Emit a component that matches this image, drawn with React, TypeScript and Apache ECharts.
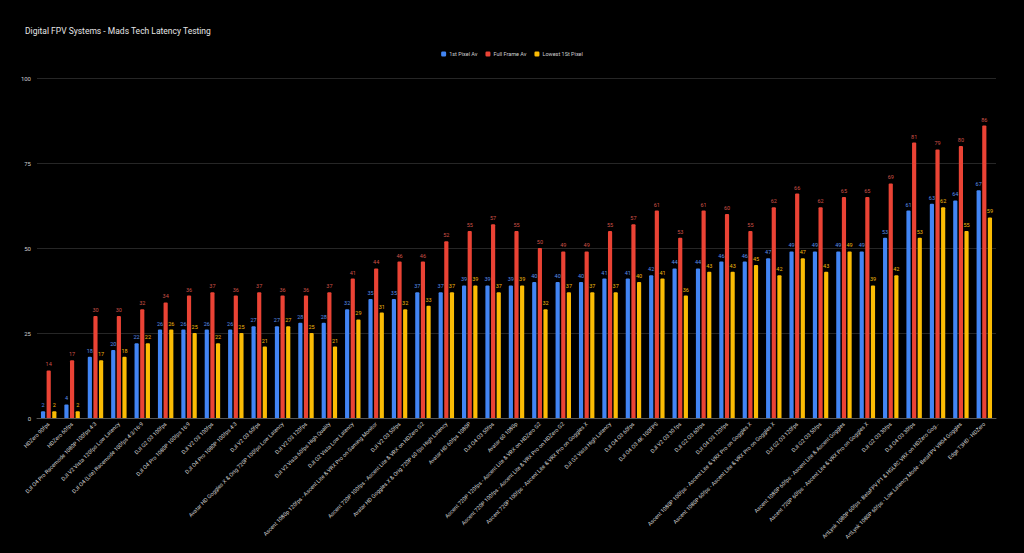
import React, { useEffect, useRef } from "react";
import * as echarts from "echarts";

const categories = [
  "HDZero 90fps",
  "HDZero 60fps",
  "DJI O4 Pro Racemode 1080P 100fps 4:3",
  "DJI V2 Vista 120fps Low Latency",
  "DJI O4 (Lite) Racemode 100fps 4:3/16:9",
  "DJI G2 O3 100fps",
  "DJI O4 Pro 1080P 100fps 16:9",
  "DJI V2 O3 100fps",
  "DJI O4 Pro 1080P 100fps 4:3",
  "DJI V2 O3 60fps",
  "Avatar HD Goggles X & Orig 720P 100fps Low Latency",
  "DJI V2 O3 120fps",
  "DJI V2 Vista 60fps High Quality",
  "DJI G2 Vista Low Latency",
  "Ascent 1080p 120fps - Ascent Lite & VRX Pro on Gaming Monitor",
  "DJI V2 O3 50fps",
  "Ascent 720P 100fps - Ascent Lite & VRX on HDZero G2",
  "Avatar HD Goggles X & Orig 720P 60 fps High Latency",
  "Avatar HD 60fps 1080P",
  "DJI O4 O3 50fps",
  "Avatar 60 1080p",
  "Ascent 720P 120fps - Ascent Lite & VRX on HDZero G2",
  "Ascent 720P 100fps - Ascent Lite & VRX Pro on HDZero G2",
  "Ascent 720P 100fps - Ascent Lite & VRX Pro on Goggles X",
  "DJI G2 Vista High Latency",
  "DJI O4 O3 60fps",
  "DJI O4 O3 4K 100FPS",
  "DJI V2 O3 30 fps",
  "DJI G2 O3 60fps",
  "DJI O4 O3 120fps",
  "Ascent 1080P 100fps - Ascent Lite & VRX Pro on Goggles X",
  "Ascent 1080P 60fps - Ascent Lite & VRX Pro on Goggles X",
  "DJI G2 O3 120fps",
  "DJI G2 O3 50fps",
  "Ascent 1080P 60fps - Ascent Lite & Ascent Goggles",
  "Ascent 720P 60fps - Ascent Lite & VRX Pro on Goggles X",
  "DJI G2 O3 30fps",
  "DJI O4 O3 30fps",
  "ArtLynk 1080P 60fps - BetaFPV P1 & HGLRC VRX on HDZero Gog…",
  "ArtLynk 1080P 60fps - Low Latency Mode - BetaFPV VR04 Goggles",
  "Edge T3HD - HDZero",
];

const firstPixel = [2, 4, 18, 20, 22, 26, 26, 26, 26, 27, 27, 28, 28, 32, 35, 35, 37, 37, 39, 39, 39, 40, 40, 40, 41, 41, 42, 44, 44, 46, 46, 47, 49, 49, 49, 49, 53, 61, 63, 64, 67];
const fullFrame = [14, 17, 30, 30, 32, 34, 36, 37, 36, 37, 36, 36, 37, 41, 44, 46, 46, 52, 55, 57, 55, 50, 49, 49, 55, 57, 61, 53, 61, 60, 55, 62, 66, 62, 65, 65, 69, 81, 79, 80, 86];
const lowestFirst = [2, 2, 17, 18, 22, 26, 25, 22, 25, 21, 27, 25, 21, 29, 31, 32, 33, 37, 39, 37, 39, 32, 37, 37, 37, 40, 41, 36, 43, 43, 45, 42, 47, 43, 49, 39, 42, 53, 62, 55, 59];

const seriesNames = ["1st Pixel Av", "Full Frame Av", "Lowest 1St Pixel"];
const yTicks = [0, 25, 50, 75, 100];

const FONT = "Roboto, 'Liberation Sans', Arial, sans-serif";

export default function App() {
  const ref = useRef<HTMLDivElement>(null);

  useEffect(() => {
    if (!ref.current) return;
    const chart = echarts.init(ref.current, undefined, { renderer: "svg" });
    const colors = ["#4285f4", "#ea4335", "#fbbc04"];
    const labelColors = ["#5b8fe8", "#cf5248", "#f2b90c"];
    const datasets = [firstPixel, fullFrame, lowestFirst];
    chart.setOption({
      animation: false,
      backgroundColor: "#000000",
      textStyle: { fontFamily: FONT },
      title: {
        text: "Digital FPV Systems - Mads Tech Latency Testing",
        left: 20,
        top: 21,
        textStyle: { color: "#e6e6e6", fontSize: 8.5, fontWeight: "normal", fontFamily: FONT },
      },
      legend: {
        top: 46,
        left: "center",
        itemWidth: 5,
        itemHeight: 5,
        itemGap: 8,
        icon: "roundRect",
        textStyle: { color: "#d0d0d0", fontSize: 5.5, fontFamily: FONT, padding: [0, 0, 0, -2] },
        data: seriesNames,
      },
      grid: { left: 37, right: 28, top: 78, bottom: 135, containLabel: false },
      xAxis: {
        type: "category",
        data: categories,
        axisLine: { lineStyle: { color: "#555555", width: 1 } },
        axisTick: { show: false },
        axisLabel: {
          interval: 0,
          rotate: 45,
          color: "#cfcfcf",
          fontSize: 5.5,
          margin: 5,
          fontFamily: FONT,
        },
      },
      yAxis: {
        type: "value",
        min: yTicks[0],
        max: yTicks[yTicks.length - 1],
        interval: 25,
        axisLine: { show: false },
        axisTick: { show: false },
        splitLine: { lineStyle: { color: "#262626", width: 1 } },
        axisLabel: { color: "#cfcfcf", fontSize: 6, margin: 6, fontFamily: FONT },
      },
      series: datasets.map((d, i) => ({
        name: seriesNames[i],
        type: "bar",
        data: d,
        barCategoryGap: "34%",
        barGap: "35%",
        itemStyle: { color: colors[i], borderRadius: [1, 1, 0, 0] },
        label: {
          show: true,
          position: "top",
          distance: 3,
          color: labelColors[i],
          fontSize: 5.5,
          fontFamily: FONT,
        },
      })),
    });
    return () => chart.dispose();
  }, []);

  return (
    <div
      ref={ref}
      style={{ position: "fixed", left: 0, top: 0, width: 1024, height: 553, background: "#000" }}
    />
  );
}
